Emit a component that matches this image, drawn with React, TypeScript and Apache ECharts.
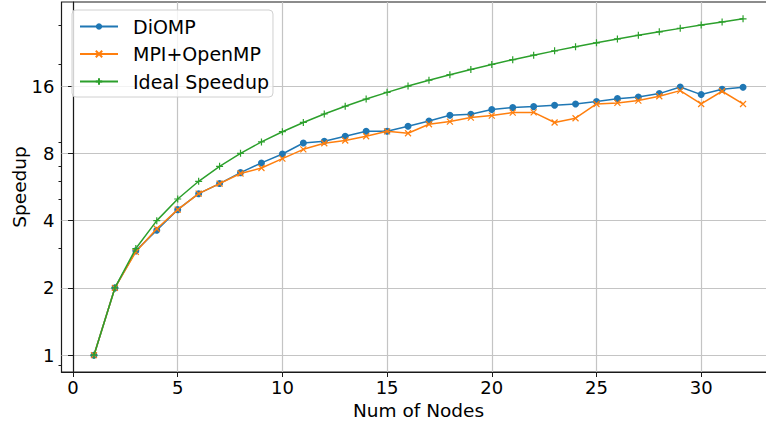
import React, { useEffect, useRef } from "react";
import * as echarts from "echarts";

const nodes = [1,2,3,4,5,6,7,8,9,10,11,12,13,14,15,16,17,18,19,20,21,22,23,24,25,26,27,28,29,30,31,32];
const diomp = [1.0,2.0,2.93,3.62,4.48,5.28,5.86,6.56,7.25,7.95,8.9,9.06,9.54,10.04,10.04,10.58,11.17,11.85,11.97,12.56,12.84,12.95,13.13,13.31,13.64,14.06,14.3,14.81,15.86,14.66,15.48,15.8];
const mpiOmp = [1.0,2.0,2.9,3.68,4.48,5.28,5.86,6.5,6.88,7.58,8.34,8.88,9.13,9.54,10.04,9.84,10.8,11.1,11.57,11.81,12.18,12.2,10.99,11.49,13.31,13.45,13.78,14.41,15.27,13.31,15.17,13.31];
const ideal = [1,2,3,4,5,6,7,8,9,10,11,12,13,14,15,16,17,18,19,20,21,22,23,24,25,26,27,28,29,30,31,32];
const xTicks = [0,5,10,15,20,25,30];
const yTicks = [1,2,4,8,16];
const yMinorTicks = [0.9,3,5,6,7,9,20,30];

const FONT = "DejaVu Sans";

export default function App() {
  const ref = useRef<HTMLDivElement>(null);
  useEffect(() => {
    const chart = echarts.init(ref.current!, null, { renderer: "svg" });
    const pair = (ys: number[]) => nodes.map((n, i) => [n, ys[i]]);
    const yMin = Math.pow(2, -0.25);
    const yMax = Math.pow(2, 5.25);
    chart.setOption({
      animation: false,
      backgroundColor: "#fff",
      textStyle: { fontFamily: FONT },
      grid: {
        left: 61.5, width: 714, top: 2, bottom: 51,
        outerBoundsMode: "none",
        containLabel: false,
        show: true, borderColor: "#1a1a1a", borderWidth: 1.2, backgroundColor: "transparent",
      },
      legend: {
        orient: "vertical",
        left: 72, top: 10,
        itemWidth: 38, itemHeight: 8, itemGap: 8.5,
        padding: [7, 4, 6, 7],
        backgroundColor: "rgba(255,255,255,0.8)",
        borderColor: "#d0d0d0", borderWidth: 1, borderRadius: 4,
        textStyle: { fontFamily: FONT, fontSize: 19, color: "#000", padding: [0, 0, 0, 10] },
        data: ["DiOMP", "MPI+OpenMP", "Ideal Speedup"],
      },
      xAxis: {
        type: "value",
        min: -0.55, max: 33.55,
        name: "Num of Nodes", nameLocation: "middle", nameGap: 28,
        nameTextStyle: { fontFamily: FONT, fontSize: 18.5, color: "#000" },
        axisLine: { show: true, lineStyle: { color: "#1a1a1a", width: 1.2 } },
        axisTick: { show: true, inside: false, length: 5, customValues: xTicks, lineStyle: { color: "#1a1a1a" } },
        axisLabel: { customValues: xTicks, fontFamily: FONT, fontSize: 18, color: "#000", margin: 6 },
        splitLine: { show: true, lineStyle: { color: "#c4c4c4", width: 1.2 } },
      },
      yAxis: [
        {
          type: "log",
          logBase: 2,
          min: yMin, max: yMax,
          name: "Speedup", nameLocation: "middle", nameGap: 33, nameRotate: 90,
          nameMoveOverlap: false,
          nameTextStyle: { fontFamily: FONT, fontSize: 18.5, color: "#000" },
          axisLine: { show: true, lineStyle: { color: "#1a1a1a", width: 1.2 } },
          axisTick: { show: true, length: 5, customValues: yTicks, lineStyle: { color: "#1a1a1a" } },
          axisLabel: { customValues: yTicks, fontFamily: FONT, fontSize: 18, color: "#000", margin: 7 },
          splitLine: { show: true, lineStyle: { color: "#c4c4c4", width: 1.2 } },
        },
        {
          type: "log",
          logBase: 2,
          position: "left",
          offset: 0,
          min: yMin, max: yMax,
          axisLine: { show: false },
          axisTick: { show: true, length: 3, customValues: yMinorTicks, lineStyle: { color: "#1a1a1a", width: 1 } },
          axisLabel: { show: false, customValues: yMinorTicks },
          splitLine: { show: false },
        },
      ],
      series: [
        {
          name: "DiOMP", type: "line", data: pair(diomp),
          symbol: "circle", symbolSize: 7,
          lineStyle: { color: "#1f77b4", width: 1.5 },
          itemStyle: { color: "#1f77b4" },
          z: 3,
        },
        {
          name: "MPI+OpenMP", type: "line", data: pair(mpiOmp),
          symbol: "path://M0,0L10,10M10,0L0,10", symbolSize: 6,
          lineStyle: { color: "#ff7f0e", width: 1.5 },
          itemStyle: { color: "#ff7f0e", borderColor: "#ff7f0e", borderWidth: 1.2 },
          z: 4,
        },
        {
          name: "Ideal Speedup", type: "line", data: pair(ideal),
          symbol: "path://M5,0L5,10M0,5L10,5", symbolSize: 7,
          lineStyle: { color: "#2ca02c", width: 1.5 },
          itemStyle: { color: "#2ca02c", borderColor: "#2ca02c", borderWidth: 1.2 },
          z: 5,
        },
      ],
    });
    return () => chart.dispose();
  }, []);
  return (
    <div
      ref={ref}
      style={{ position: "fixed", left: 0, top: 0, width: 766, height: 423, background: "#fff" }}
    />
  );
}
